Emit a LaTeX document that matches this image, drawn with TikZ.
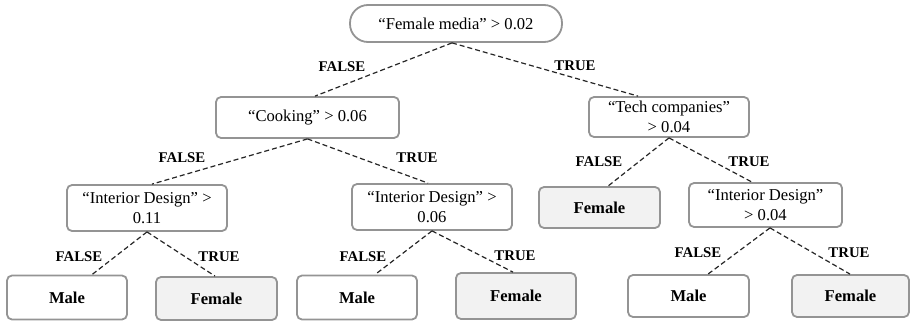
\documentclass[tikz,border=0pt]{standalone}
\usepackage{fontspec}
\setmainfont{Liberation Serif}
\begin{document}
\begin{tikzpicture}[x=1pt,y=-1pt,
  box/.style={draw=black!42, line width=1.8pt, rounded corners=5pt, inner sep=0pt, align=center,
    font=\fontsize{16.6}{19.5}\selectfont, fill=white},
  leaf/.style={box, font=\fontsize{16.6}{19.5}\selectfont\bfseries},
  fem/.style={leaf, fill=black!5},
  edge/.style={dashed, dash pattern=on 5pt off 3pt, line width=1.2pt, black!85},
  lab/.style={font=\fontsize{14.8}{16}\selectfont\bfseries, inner sep=0pt}]
\useasboundingbox (0,0) rectangle (910,321);
\node[box, rounded corners=18pt, minimum width=212pt, minimum height=37pt] (root) at (456,23.5) {“Female media” > 0.02};
\node[box, minimum width=183pt, minimum height=41pt] (cook) at (307.5,117.5) {“Cooking” > 0.06};
\node[box, minimum width=160pt, minimum height=40pt] (tech) at (669,117) {“Tech companies”\\> 0.04};
\node[box, minimum width=160pt, minimum height=46pt] (id1) at (147,208) {“Interior Design” >\\0.11};
\node[box, minimum width=160pt, minimum height=46pt] (id2) at (432,207) {“Interior Design” >\\0.06};
\node[fem, minimum width=121pt, minimum height=41pt] (fem0) at (599.5,207.5) {Female};
\node[box, minimum width=153pt, minimum height=44pt] (id3) at (765.5,205) {“Interior Design”\\> 0.04};
\node[leaf, minimum width=120pt, minimum height=44pt] (m1) at (67,297.5) {Male};
\node[fem, minimum width=121pt, minimum height=43pt] (f1) at (216.5,298.5) {Female};
\node[leaf, minimum width=120pt, minimum height=44pt] (m2) at (357,297.5) {Male};
\node[fem, minimum width=120pt, minimum height=46pt] (f2) at (516,296) {Female};
\node[leaf, minimum width=121pt, minimum height=42pt] (m3) at (688.5,296) {Male};
\node[fem, minimum width=117pt, minimum height=42pt] (f3) at (850.5,296) {Female};

\draw[edge] ([xshift=-4pt]root.south) -- ([xshift=7.5pt]cook.north);
\draw[edge] ([xshift=-4pt]root.south) -- ([xshift=-31pt]tech.north);
\draw[edge] (cook.south) -- ([xshift=5pt]id1.north);
\draw[edge] (cook.south) -- ([xshift=-4pt]id2.north);
\draw[edge] (id1.south) -- ([xshift=25pt]m1.north);
\draw[edge] (id1.south) -- ([xshift=-1.5pt]f1.north);
\draw[edge] (id2.south) -- ([xshift=18pt]m2.north);
\draw[edge] (id2.south) -- ([xshift=-3pt]f2.north);
\draw[edge] (tech.south) -- ([xshift=8.5pt]fem0.north);
\draw[edge] (tech.south) -- ([xshift=-13.5pt]id3.north);
\draw[edge] ([xshift=4.5pt]id3.south) -- ([xshift=19.5pt]m3.north);
\draw[edge] ([xshift=4.5pt]id3.south) -- ([xshift=-0.5pt]f3.north);

\node[lab] (l1) at (342,67) {FALSE};
\node[lab] (l2) at (575,66) {TRUE};
\node[lab] (l3) at (182,158) {FALSE};
\node[lab] (l4) at (417,158) {TRUE};
\node[lab] (l5) at (79,257) {FALSE};
\node[lab] (l6) at (219,257) {TRUE};
\node[lab] (l7) at (363,257) {FALSE};
\node[lab] (l8) at (515,256) {TRUE};
\node[lab] (l9) at (599,162) {FALSE};
\node[lab] (l10) at (749,162) {TRUE};
\node[lab] (l11) at (698,253) {FALSE};
\node[lab] (l12) at (849,253) {TRUE};
\end{tikzpicture}
\end{document}
